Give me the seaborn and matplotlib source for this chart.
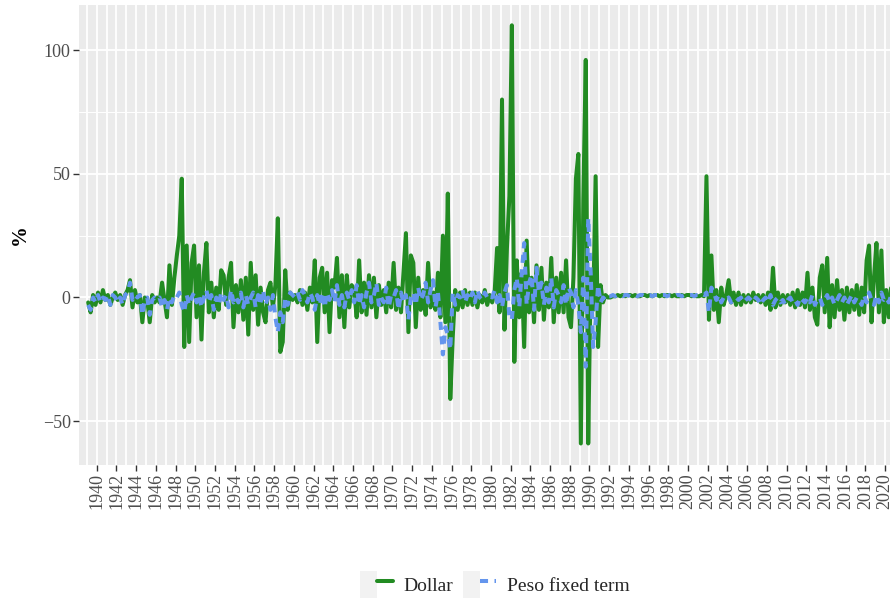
import numpy as np
import pandas as pd
import seaborn as sns
import matplotlib
matplotlib.use("Agg")
import matplotlib.pyplot as plt
from matplotlib.lines import Line2D
from matplotlib.patches import Patch
from matplotlib.legend_handler import HandlerTuple

# quarterly readings (%), 1939 Q1 .. 2020 Q4
first_year = 1939
dollar = [
    -2, -6, 1, -3,   2, -2, 3, -1,   1, -3, 0, 2,   -1, 1, -3, 1,   3, 7, -4, 3,        # 1939-43
    -2, 1, -10, 0,   -1, -10, 1, -2,   0, -2, 6, -1,   -8, 13, -3, 8,   17, 25, 48, -20,  # 1944-48
    21, -18, 14, 21,   -8, 13, -17, 10,   22, -6, 6, -8,   4, -5, 11, 9,   -3, 8, 14, -12,  # 1949-53
    5, -6, 7, -9,   8, -15, 14, -5,   9, -11, 4, -6,   -10, 3, 6, -4,   5, 32, -22, -18,    # 1954-58
    11, -5, 2, -1,   1, -2, 3, -3,   2, -5, 4, -2,   15, -18, 8, 12,   -6, 10, -14, 7,     # 1959-63
    4, 16, -8, 9,   -12, 9, -4, 5,   3, -8, 15, -6,   6, -7, 9, -4,   8, -8, 5, -3,        # 1964-68
    3, -6, 6, -4,   14, -5, 4, -6,   10, 26, -14, 17,   14, -12, 8, -5,   3, -7, 14, -4,   # 1969-73
    2, -5, 10, -8,   25, -10, 42, -41,   -16, 3, -5, 2,   -4, 3, -3, 2,   -3, 2, -4, 1,    # 1974-78
    -2, 3, -3, 1,   -2, 2, 20, -6,   80, -13, 20, 41,   110, -26, 15, -8,   10, -20, 23, -6,  # 1979-83
    8, -10, 13, -5,   12, -9, 6, -4,   16, -10, 8, -6,   10, -6, 15, -8,   -12, 8, 48, 58,  # 1984-88
    -59, 39, 96, -59,   10, -5, 49, -20,   5, -2, 1, 0,   0, 0.5, 0.5, 1,   0.5, 1, 0.5, 1,  # 1989-93
    1, 0.5, 1, 0.5,   0.5, 1, 1, 0.5,   1, 0.5, 1, 1,   0.5, 1, 0.5, 1,   1, 0.5, 1, 0.5,  # 1994-98
    0.5, 1, 0.5, 1,   1, 0.5, 1, 0.5,   0.5, 1, 0.5, 49,   -9, 17, -5, 3,   -10, 4, -3, 1,  # 1999-2003
    7, -2, 2, -3,   2, -3, 1, -2,   1, -2, 2, -1,   1, -2, 1, -3,   2, -5, 12, -4,        # 2004-08
    2, -3, 1, -2,   1, -3, 2, -4,   3, -3, 2, -4,   10, -5, 4, -8,   -11, 8, 13, -6,      # 2009-13
    16, -12, 5, -8,   7, -5, 3, -9,   4, -6, 3, -5,   5, -7, 4, -6,   15, 21, -10, 8,     # 2014-18
    22, -6, 19, -10,   3, -8, 5, -4,                                                      # 2019-20
]
peso = [
    -3, -5, 0, -2,   1, -2, 0, -1,   1, -3, 1, 0,   -2, 0, -3, 1,   2, 6, -1, 1,         # 1939-43
    0, 1, -7, -1,   0, -7, -1, 0,   -1, 0, -4, -1,   -5, 0, -2, 1,   0, 2, -3, -6,       # 1944-48
    1, -3, 0, 2,   -2, 1, -4, 0,   3, -2, 1, -5,   0, -3, 2, -1,   1, -4, 3, -2,         # 1949-53
    0, -2, 2, -4,   1, -3, 0, 2,   -4, 1, -2, 3,   -3, 0, -5, 1,   -8, -14, -6, -10,     # 1954-58
    0, -3, 2, 1,   0, 2, -1, 3,   1, -2, 2, 0,   -5, 1, -3, 2,   -4, 2, -1, 3,           # 1959-63
    -2, 5, -3, 1,   -4, 2, -1, 3,   -2, 5, -3, 1,   -4, 2, 6, -2,   1, 6, -3, 0,         # 1964-68
    -2, 4, -4, 1,   0, 3, -5, 2,   -2, 1, -9, 0,   2, -3, 4, -1,   1, 6, -2, 3,          # 1969-73
    7, -4, 2, -10,   -23, -12, -15, -21,   2, -3, 1, 0,   3, -2, 1, -1,   2, -2, 3, 0,   # 1974-78
    -1, 2, 0, 1,   0, 3, -2, 1,   -4, 2, 5, -8,   -9, 3, 8, -4,   10, 22, -3, 6,         # 1979-83
    9, -5, 12, 2,   6, -3, 4, -2,   8, -4, 3, 1,   -2, 5, -3, 4,   2, -4, 3, -3,         # 1984-88
    -14, 8, -28, 32,   10, -20, -10, 5,   -2, 0, -1, 0.5,   0.5, 1, 0.5, 1,   1, 0.5, 1, 1,  # 1989-93
    0.5, 1, 1, 0.5,   1, 1, 0.5, 1,   1, 0.5, 1, 1,   0.5, 1, 1, 0.5,   1, 1, 0.5, 1,      # 1994-98
    1, 0.5, 1, 1,   1, 1, 0.5, 1,   1, 1.5, 1, 2,   -6, 4, 2, -1,   1, -2, 0, -1,        # 1999-2003
    0, -2, -1, 0,   -1, 0, -2, -1,   0, -1, -2, 0,   -1, -3, -1, 0,   -2, 1, -3, -1,     # 2004-08
    0, -2, -1, -3,   -1, 0, -2, -1,   -3, 0, -1, -2,   0, -2, 1, -3,   -1, 0, -3, -1,    # 2009-13
    1, -2, 0, -3,   -1, 1, -2, 0,   -3, -1, 1, -2,   0, -1, -3, 1,   -2, 2, -1, -3,      # 2014-18
    1, -2, 2, -1,   0, -2, 1, -1,                                                         # 2019-20
]
year_ticks = list(range(1940, 2021, 2))
y_ticks = [-50, 0, 50, 100]

dates = first_year + np.arange(len(dollar)) / 4 + 0.125
df = pd.DataFrame({"date": dates, "Dollar": dollar, "Peso fixed term": peso})

sns.set_theme(style="darkgrid", rc={
    "axes.facecolor": "#EBEBEB",
    "grid.color": "white",
    "axes.edgecolor": "#EBEBEB",
})
plt.rcParams["font.family"] = ["Liberation Serif", "DejaVu Serif"]
plt.rcParams["axes.unicode_minus"] = True

fig = plt.figure(figsize=(8.9, 5.98), dpi=100)
ax = fig.add_axes([0.0888, 0.2224, 0.9112, 0.7692])

green = "#228B22"
blue = "#6495ED"
lw = 2.9
dash = (0, (2.0, 1.6))
sns.lineplot(data=df, x="date", y="Dollar", ax=ax, color=green, linewidth=lw)
sns.lineplot(data=df, x="date", y="Peso fixed term", ax=ax, color=blue,
             linewidth=lw, linestyle=dash)

ax.set_xlim(1938.2, 2020.5)
ax.set_ylim(-67.7, 118.2)
ax.set_xticks(year_ticks)
ax.set_xticks(range(1939, 2021, 2), minor=True)
ax.set_yticks(y_ticks)
ax.set_yticks([-25, 25, 75], minor=True)
ax.set_yticklabels(["\u221250", "0", "50", "100"])
ax.set_xticklabels([str(y) for y in year_ticks], rotation=90)
ax.grid(which="major", color="white", linewidth=1.3)
ax.grid(which="minor", axis="x", color="white", linewidth=1.3)
ax.grid(which="minor", axis="y", color="white", linewidth=0.7)
ax.tick_params(which="major", length=4, width=1, color="#333333",
               labelsize=13, labelcolor="#4D4D4D", pad=2,
               bottom=True, left=True)
ax.tick_params(which="minor", length=0)
ax.set_xlabel("")
ax.set_ylabel("%", fontsize=15, fontweight="bold", color="black")
ax.yaxis.set_label_coords(-0.06, 0.5)
for s in ax.spines.values():
    s.set_visible(False)

key_bg = "#F2F2F2"
handles = [
    (Patch(facecolor=key_bg, edgecolor="none"),
     Line2D([], [], color=green, linewidth=lw)),
    (Patch(facecolor=key_bg, edgecolor="none"),
     Line2D([], [], color=blue, linewidth=lw, linestyle=dash)),
]
fig.legend(handles, ["Dollar", "Peso fixed term"], ncol=2, loc="center",
           bbox_to_anchor=(0.556, 0.022), frameon=False, fontsize=14,
           handlelength=1.7, handleheight=1.8, handletextpad=0.55,
           columnspacing=0.5,
           handler_map={tuple: HandlerTuple(ndivide=None, pad=0)})

fig.savefig("out.png", dpi=100)
